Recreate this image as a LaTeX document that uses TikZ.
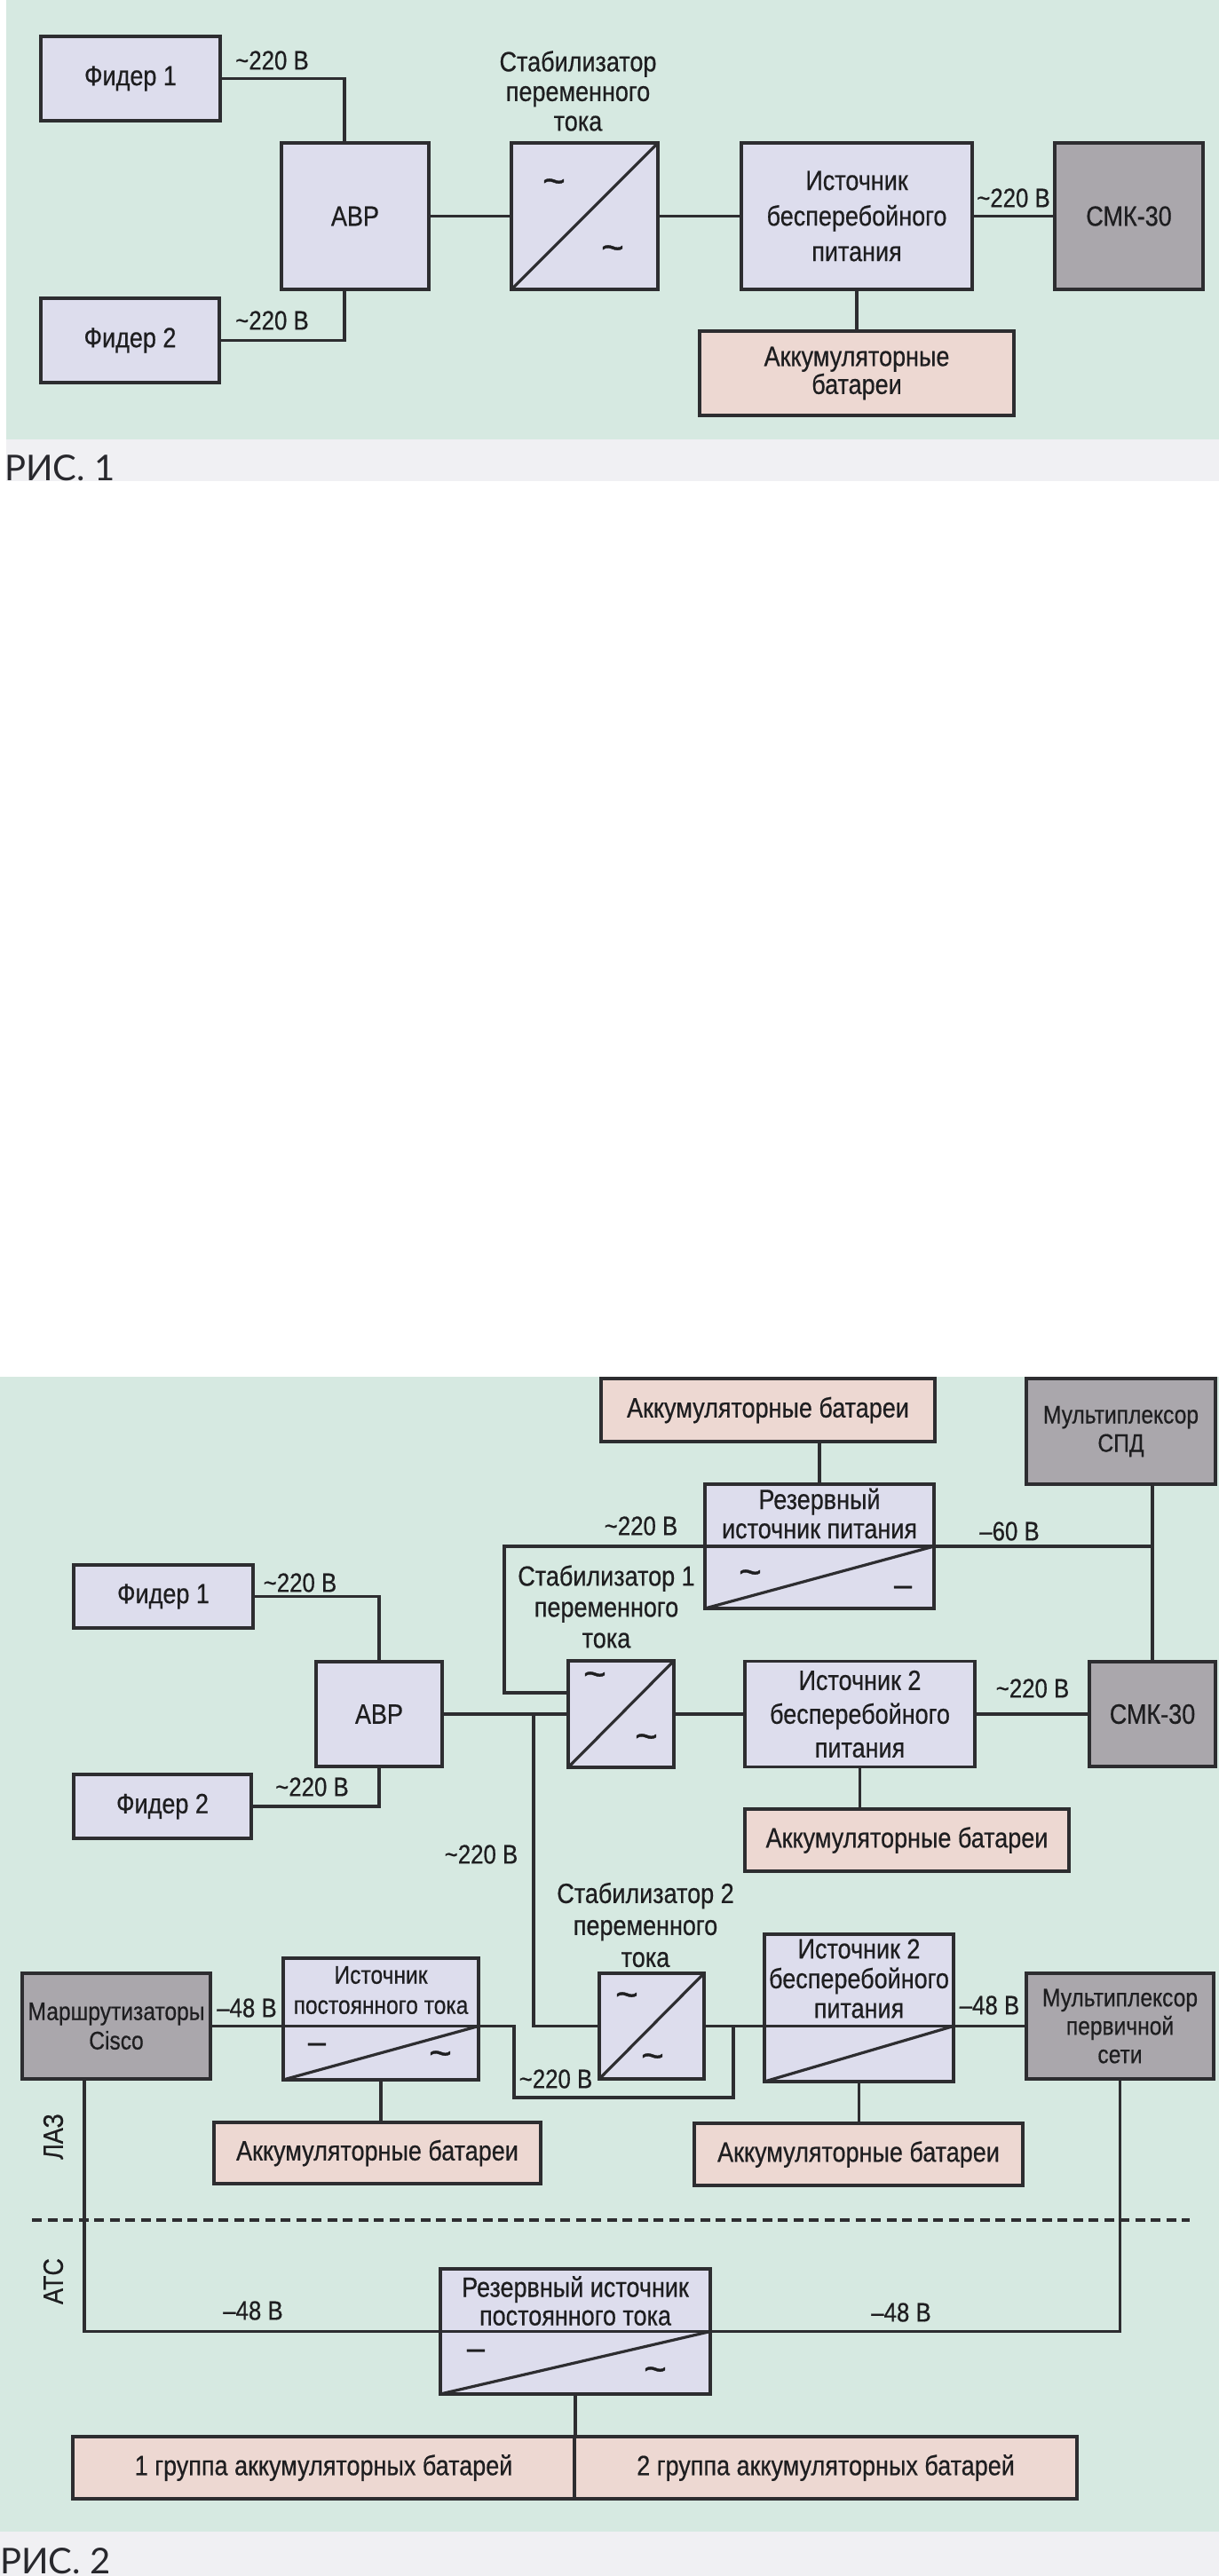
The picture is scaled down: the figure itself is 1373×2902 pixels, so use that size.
\documentclass[tikz,border=0pt]{standalone}
\usepackage{fontspec}
\setmainfont{Liberation Sans}[FakeStretch=0.86, FakeBold=0.5]
\newfontfamily\symfont{Liberation Sans}[FakeBold=0.8]
\newfontfamily\capfont{Lato}
\definecolor{bgc}{RGB}{214,233,225}
\definecolor{bandc}{RGB}{240,240,243}
\definecolor{boxc}{RGB}{221,221,237}
\definecolor{pinkc}{RGB}{237,216,210}
\definecolor{grayc}{RGB}{170,167,172}
\definecolor{linec}{RGB}{45,45,48}
\definecolor{textc}{RGB}{30,30,32}
\definecolor{capc}{RGB}{40,40,45}
\tikzset{
  box/.style={draw=linec, line width=3.2pt, fill=boxc, outer sep=0pt, inner sep=0pt, text=textc, align=center},
  gbox/.style={box, fill=grayc},
  pbox/.style={box, fill=pinkc},
  lbl/.style={inner sep=0pt, text=textc, align=center},
  vlbl/.style={lbl, font=\fontsize{30}{30}\selectfont},
  wire/.style={draw=linec, line width=3.2pt},
  sym/.style={inner sep=0pt, text=textc, font=\symfont\fontsize{44}{44}\selectfont},
  dsym/.style={inner sep=0pt, text=textc, font=\symfont\fontsize{36}{36}\selectfont},
  capt/.style={inner sep=0pt, text=capc, font=\capfont\fontsize{40}{40}\selectfont}
}
\begin{document}
\begin{tikzpicture}[x=1pt, y=-1pt, font=\fontsize{31.4}{33}\selectfont]
\useasboundingbox (0,0) rectangle (1373,2902);
\fill[white] (0,0) rectangle (1373,2902);
% backgrounds
\fill[bgc] (7,0) rectangle (1373,495);
\fill[bandc] (7,495) rectangle (1373,542);
\fill[bgc] (0,1551) rectangle (1373,2852);
\fill[bandc] (0,2852) rectangle (1373,2902);

% ================= FIG 1 =================
\node[box, minimum width=202pt, minimum height=95pt] (f1a) at (147,88.5) {Фидер 1};
\node[box, minimum width=201pt, minimum height=95pt] (f2a) at (146.5,383.5) {Фидер 2};
\node[box, minimum width=166pt, minimum height=165pt] (abp1) at (400,243.5) {АВР};
\node[box, minimum width=165pt, minimum height=165pt] (stab1a) at (658.5,243.5) {};
\node[box, minimum width=260pt, minimum height=165pt, font=\fontsize{31.4}{40}\selectfont] (ups1) at (965,243.5) {Источник\\бесперебойного\\питания};
\node[gbox, minimum width=167pt, minimum height=165pt] (smk1) at (1271.5,243.5) {СМК-30};
\node[pbox, minimum width=354pt, minimum height=95pt, font=\fontsize{31.4}{31.5}\selectfont] (bat1) at (965,420.5) {Аккумуляторные\\батареи};
\node[lbl, font=\fontsize{31.4}{33.5}\selectfont] (stab1alb) at (651,102.5) {Стабилизатор\\переменного\\тока};
\node[sym] (s1a) at (624,210) {\textasciitilde};
\node[sym] (s1b) at (690,285) {\textasciitilde};
\node[vlbl] (l1) at (306.5,68) {\textasciitilde220 В};
\node[vlbl] (l2) at (306.5,361) {\textasciitilde220 В};
\node[vlbl] (l3) at (1141.5,223) {\textasciitilde220 В};

\coordinate (j1) at (388,88.5);
\coordinate (j2) at (388,383.5);
\draw[wire] (f1a.east) -- (j1) -- (j1 |- abp1.north);
\draw[wire] (f2a.east) -- (j2) -- (j2 |- abp1.south);
\draw[wire] (abp1.east) -- (stab1a.west);
\draw[wire] (stab1a.east) -- (ups1.west);
\draw[wire] (ups1.east) -- (smk1.west);
\draw[wire] (ups1.south) -- (bat1.north);
\draw[wire] (stab1a.south west) -- (stab1a.north east);

\node[capt, anchor=base west] (cap1) at (5,541) {РИС. 1};

% ================= FIG 2 =================
\node[pbox, minimum width=376pt, minimum height=71pt] (topbat) at (865,1588.5) {Аккумуляторные батареи};
\node[gbox, minimum width=213pt, minimum height=119pt, font=\fontsize{28.6}{32}\selectfont] (mux1) at (1262.5,1612.5) {Мультиплексор\\СПД};
\node[box, minimum width=258pt, minimum height=140pt] (rez) at (923,1742) {};
\node[lbl, font=\fontsize{31.4}{33}\selectfont] (rezt) at (923,1705) {Резервный\\источник питания};
\node[sym] (rezs1) at (845,1777) {\textasciitilde};
\node[dsym] (rezs2) at (1017,1792) {–};
\node[box, minimum width=202pt, minimum height=71pt] (f1b) at (184,1798.5) {Фидер 1};
\node[box, minimum width=200pt, minimum height=72pt] (f2b) at (183,2035) {Фидер 2};
\node[box, minimum width=142pt, minimum height=118pt] (abp2) at (427,1931) {АВР};
\node[box, minimum width=119pt, minimum height=120pt] (stab1) at (699.5,1931) {};
\node[sym] (st1s1) at (670,1892) {\textasciitilde};
\node[sym] (st1s2) at (728,1962) {\textasciitilde};
\node[lbl, font=\fontsize{31.4}{35}\selectfont] (stab1t) at (683,1810) {Стабилизатор 1\\переменного\\тока};
\node[box, minimum width=259pt, minimum height=119pt, font=\fontsize{31.4}{38}\selectfont] (ups2a) at (968.5,1931) {Источник 2\\бесперебойного\\питания};
\node[gbox, minimum width=142pt, minimum height=118pt] (smk2) at (1298,1931) {СМК-30};
\node[pbox, minimum width=365pt, minimum height=70pt] (bat2a) at (1021.5,2073) {Аккумуляторные батареи};
\node[box, minimum width=118pt, minimum height=119pt] (stab2) at (734,2282.5) {};
\node[sym] (st2s1) at (706,2253) {\textasciitilde};
\node[sym] (st2s2) at (735,2322) {\textasciitilde};
\node[lbl, font=\fontsize{31.4}{36}\selectfont] (stab2t) at (727,2168.5) {Стабилизатор 2\\переменного\\тока};
\node[box, minimum width=213pt, minimum height=166pt] (ups2b) at (967.5,2262) {};
\node[lbl, font=\fontsize{31.4}{33.5}\selectfont] (ups2bt) at (967.5,2229) {Источник 2\\бесперебойного\\питания};
\node[gbox, minimum width=211pt, minimum height=119pt, font=\fontsize{28.6}{32}\selectfont] (mux2) at (1261.5,2282.5) {Мультиплексор\\первичной\\сети};
\node[pbox, minimum width=370pt, minimum height=70pt] (bat2b) at (967,2427) {Аккумуляторные батареи};
\node[gbox, minimum width=212pt, minimum height=119pt, font=\fontsize{28.6}{33}\selectfont] (cisco) at (131,2282.5) {Маршрутизаторы\\Cisco};
\node[box, minimum width=220pt, minimum height=137pt] (dcs) at (429,2274.5) {};
\node[lbl, font=\fontsize{28.6}{34}\selectfont] (dcst) at (429,2242) {Источник\\постоянного тока};
\node[dsym] (dcss1) at (357,2307) {–};
\node[sym] (dcss2) at (496,2319) {\textasciitilde};
\node[pbox, minimum width=368pt, minimum height=69pt] (bat3) at (425,2425.5) {Аккумуляторные батареи};
\node[box, minimum width=304pt, minimum height=141pt] (rdc) at (648,2626.5) {};
\node[lbl, font=\fontsize{31.4}{32}\selectfont] (rdct) at (648,2592) {Резервный источник\\постоянного тока};
\node[dsym] (rdcs1) at (536,2652) {–};
\node[sym] (rdcs2) at (738,2675) {\textasciitilde};
\node[pbox, minimum width=565pt, minimum height=70pt] (bgA) at (364.5,2780) {1 группа аккумуляторных батарей};
\node[pbox, minimum width=566pt, minimum height=70pt] (bgB) at (930,2780) {2 группа аккумуляторных батарей};

% labels
\node[vlbl] (m1) at (338,1783) {\textasciitilde220 В};
\node[vlbl] (m2) at (351.5,2013) {\textasciitilde220 В};
\node[vlbl] (m3) at (722,1719) {\textasciitilde220 В};
\node[vlbl] (m4) at (1137,1725) {–60 В};
\node[vlbl] (m5) at (1163,1902) {\textasciitilde220 В};
\node[vlbl] (m6) at (542,2089) {\textasciitilde220 В};
\node[vlbl] (m7) at (278,2262) {–48 В};
\node[vlbl] (m8) at (1114.5,2259) {–48 В};
\node[vlbl] (m9) at (626,2342) {\textasciitilde220 В};
\node[vlbl] (m10) at (285,2603) {–48 В};
\node[vlbl] (m11) at (1015,2605) {–48 В};
\node[lbl, rotate=90] (laz) at (60,2407) {ЛАЗ};
\node[lbl, rotate=90] (ats) at (60,2570) {АТС};

% connectors
\draw[wire] (rez.north) -- (rez.north |- topbat.south);
\draw[wire] (f1b.east) -| (abp2.north);
\draw[wire] (f2b.east) -| (abp2.south);
\draw[wire] (abp2.east) -- (stab1.west);
\coordinate (jb) at (601,1931);
\draw[wire] (jb) |- (stab2.west);
\coordinate (jL) at (568,1907);
\draw[wire] (stab1.west |- jL) -- (jL) |- (rez.west);
\draw[wire] (rez.west) -- (rez.east -| smk2.north);
\draw[wire] (smk2.north) -- (smk2.north |- mux1.south);
\draw[wire] (stab1.east) -- (ups2a.west);
\draw[wire] (ups2a.east) -- (smk2.west);
\draw[wire] (ups2a.south) -- (ups2a.south |- bat2a.north);
\draw[wire] (cisco.east) -- (cisco.east -| dcs.east);
\coordinate (jd1) at (579,2363);
\coordinate (jd2) at (826,2363);
\draw[wire] (cisco.east -| dcs.east) -| (jd1) -- (jd2) |- (stab2.east);
\draw[wire] (stab2.east) -- (mux2.west);
\draw[wire] (ups2b.south) -- (ups2b.south |- bat2b.north);
\draw[wire] (dcs.south) -- (dcs.south |- bat3.north);
\coordinate (jcs) at (95,2626.5);
\draw[wire] (cisco.south -| jcs) -- (jcs) -- (rdc.west);
\draw[wire] (rdc.west) -- (rdc.east) -| (mux2.south);
\draw[wire] (rdc.south) -- (rdc.south |- bgA.north);
% converter diagonals
\draw[wire] (stab1.south west) -- (stab1.north east);
\draw[wire] (stab2.south west) -- (stab2.north east);
\draw[wire] (rez.south west) -- (rez.east);
\draw[wire] (dcs.south west) -- (cisco.east -| dcs.east);
\draw[wire] (ups2b.south west) -- (stab2.east -| ups2b.east);
\draw[wire] (rdc.south west) -- (rdc.east);
% zone separator
\coordinate (dA) at (36,2501);
\coordinate (dB) at (1340,2501);
\draw[wire, dash pattern=on 11pt off 6.5pt] (dA) -- (dB);

\node[capt, anchor=base west] (cap2) at (0,2899) {РИС. 2};
\end{tikzpicture}
\end{document}
